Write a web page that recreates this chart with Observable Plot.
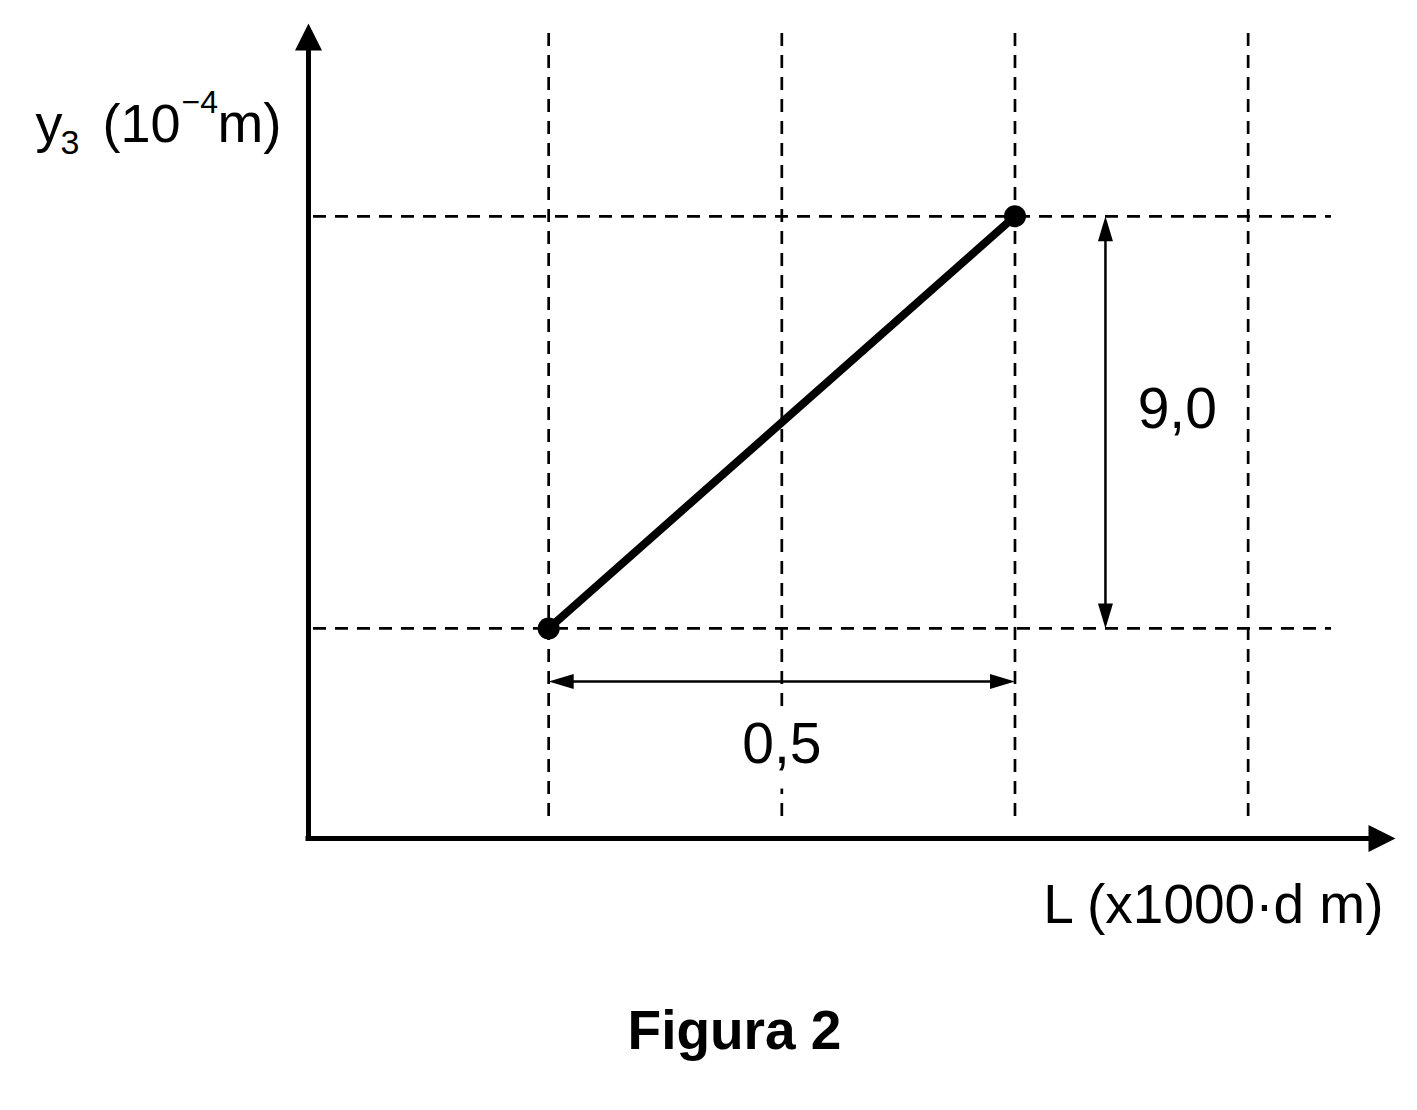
<!DOCTYPE html>
<html>
<head>
<meta charset="utf-8">
<script src="https://cdn.jsdelivr.net/npm/d3@7"></script>
<script src="https://cdn.jsdelivr.net/npm/@observablehq/plot@0.6"></script>
<style>
  body { margin: 0; background: #fff; }
  #cap {
    font-family: "Liberation Sans", Arial, sans-serif;
    font-weight: bold; font-size: 55px; line-height: 55px;
    width: 1417px; box-sizing: border-box; padding-left: 52px;
    text-align: center; padding-top: 13px; padding-bottom: 20px; color: #000;
  }
</style>
</head>
<body>
<div id="chart"></div>
<div id="cap">Figura 2</div>
<script>
// ---- data ----
const gridL = [0.25, 0.5, 0.75, 1.0];      // vertical dashed guide lines (L)
const gridY = [4.5, 13.5];                 // horizontal dashed guide lines (y3)
const pointsL = [0.25, 0.75];              // measured points, L (x1000·d m)
const pointsY = [4.5, 13.5];               // measured points, y3 (10^-4 m)
const deltaLLabel = "0,5";
const deltaYLabel = "9,0";
const xLabel = "L (x1000·d m)";
const yLabelParts = ["y", "3", "(10", "−4", "m)"];

const points = pointsL.map((L, i) => ({L, y: pointsY[i]}));

// ---- scale extents ----
const xMin = -0.0075, xMax = 1.158;
const yMin = -0.087, yMax = 17.71;
const dimArrowY = 3.34;   // height of the horizontal dimension arrow
const dimArrowL = 0.847;  // position of the vertical dimension arrow

// custom filled arrow-head symbol: tip at the anchor, pointing up
const head = (len, half) => ({
  draw(ctx) { ctx.moveTo(0, 0); ctx.lineTo(half, len); ctx.lineTo(-half, len); ctx.closePath(); }
});
const bigHead = head(27, 13.5);
const smallHead = head(25, 7.5);

const font = '"Liberation Sans", Arial, sans-serif';
const dash = "13,9";

const chart = Plot.plot({
  width: 1417,
  height: 990,
  marginLeft: 308,
  marginRight: 22,
  marginTop: 23,
  marginBottom: 152,
  x: {domain: [xMin, xMax], axis: null},
  y: {domain: [yMin, yMax], axis: null},
  style: {fontFamily: font, background: "white", color: "black"},
  marks: [
    // dashed guide grid
    Plot.ruleX(gridL, {stroke: "black", strokeWidth: 2.7, strokeDasharray: dash, insetTop: 10, insetBottom: 15}),
    Plot.ruleY(gridY, {stroke: "black", strokeWidth: 2.7, strokeDasharray: dash, insetRight: 64, insetLeft: 5}),
    // dimension labels (white halo masks the grid behind)
    Plot.text([deltaLLabel], {x: () => 0.5, y: () => 1.95, text: d => d, fontSize: 57, stroke: "white", strokeWidth: 36, fill: "black", lineAnchor: "middle"}),
    Plot.text([deltaYLabel], {x: () => 0.924, y: () => 9.28, text: d => d, fontSize: 57, fill: "black", lineAnchor: "middle"}),
    // horizontal dimension arrow
    Plot.ruleY([dimArrowY], {x1: pointsL[0], x2: pointsL[1], stroke: "black", strokeWidth: 2.5, insetLeft: 10, insetRight: 10}),
    Plot.dot([{L: pointsL[0], y: dimArrowY}], {x: "L", y: "y", symbol: smallHead, rotate: -90, fill: "black", stroke: "none"}),
    Plot.dot([{L: pointsL[1], y: dimArrowY}], {x: "L", y: "y", symbol: smallHead, rotate: 90, fill: "black", stroke: "none"}),
    // vertical dimension arrow (y1 = top end, y2 = bottom end)
    Plot.ruleX([dimArrowL], {y1: pointsY[1], y2: pointsY[0], stroke: "black", strokeWidth: 2.5, insetTop: 10, insetBottom: 10}),
    Plot.dot([{L: dimArrowL, y: pointsY[1]}], {x: "L", y: "y", symbol: smallHead, rotate: 0, fill: "black", stroke: "none"}),
    Plot.dot([{L: dimArrowL, y: pointsY[0]}], {x: "L", y: "y", symbol: smallHead, rotate: 180, fill: "black", stroke: "none"}),
    // data line and points
    Plot.line(points, {x: "L", y: "y", stroke: "black", strokeWidth: 8}),
    Plot.dot(points, {x: "L", y: "y", r: 11, fill: "black", stroke: "none"}),
    // axes with arrow heads
    Plot.ruleX([xMin], {stroke: "black", strokeWidth: 5, insetTop: 12, strokeLinecap: "square"}),
    Plot.ruleY([yMin], {stroke: "black", strokeWidth: 5, insetRight: 12, strokeLinecap: "square"}),
    Plot.dot([{L: xMin, y: yMax}], {x: "L", y: "y", symbol: bigHead, rotate: 0, fill: "black", stroke: "none"}),
    Plot.dot([{L: xMax, y: yMin}], {x: "L", y: "y", symbol: bigHead, rotate: 90, fill: "black", stroke: "none"}),
    // axis labels
    Plot.text([xLabel], {frameAnchor: "bottom-right", text: d => d, textAnchor: "end", lineAnchor: "bottom", dx: -12, dy: 84, fontSize: 55, fill: "black"}),
    Plot.text([yLabelParts[0]], {frameAnchor: "top-left", text: d => d, textAnchor: "start", lineAnchor: "bottom", dx: -273, dy: 118, fontSize: 54, fill: "black"}),
    Plot.text([yLabelParts[1]], {frameAnchor: "top-left", text: d => d, textAnchor: "start", lineAnchor: "bottom", dx: -248, dy: 130, fontSize: 34, fill: "black"}),
    Plot.text([yLabelParts[2]], {frameAnchor: "top-left", text: d => d, textAnchor: "start", lineAnchor: "bottom", dx: -206, dy: 118, fontSize: 54, fill: "black"}),
    Plot.text([yLabelParts[3]], {frameAnchor: "top-left", text: d => d, textAnchor: "start", lineAnchor: "bottom", dx: -127, dy: 89, fontSize: 32, fill: "black"}),
    Plot.text([yLabelParts[4]], {frameAnchor: "top-left", text: d => d, textAnchor: "start", lineAnchor: "bottom", dx: -91, dy: 118, fontSize: 55, fill: "black"})
  ]
});
document.getElementById("chart").append(chart);
</script>
</body>
</html>
